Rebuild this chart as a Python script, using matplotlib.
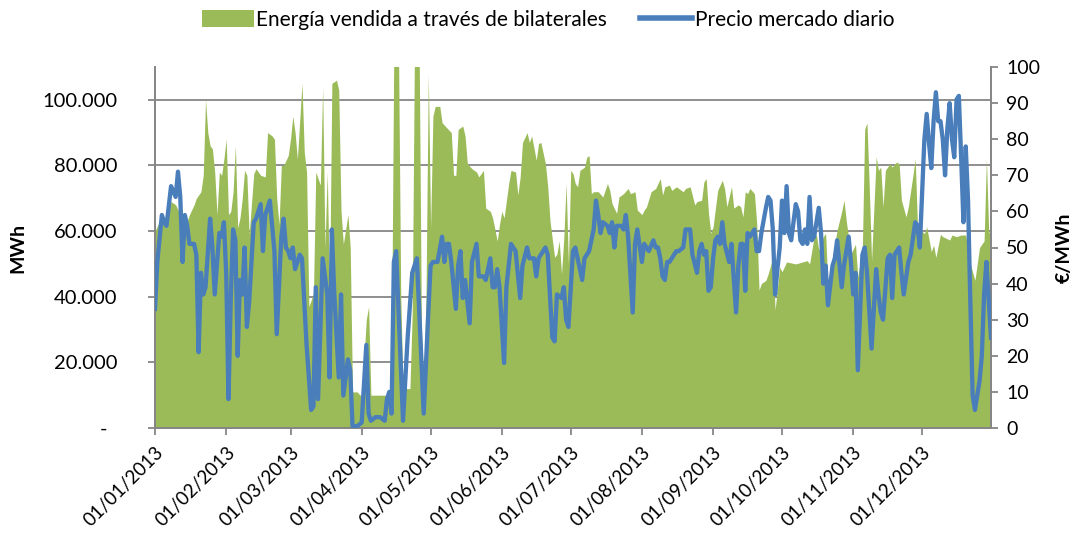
import pandas as pd
import matplotlib
matplotlib.use('Agg')
import matplotlib.pyplot as plt
import matplotlib.dates as mdates
from matplotlib.patches import Patch
from matplotlib.lines import Line2D
from matplotlib.ticker import FuncFormatter, MultipleLocator

plt.rcParams['font.family'] = ['Lato', 'DejaVu Sans']

# ---- DATOS (dia del año desde 01/01/2013) ----

inicio = pd.Timestamp('2013-01-01')

# Energia vendida a traves de bilaterales (miles de MWh)
dias_energia = [
    0, 2, 4, 7, 9, 11, 14, 15, 17, 18, 20, 21, 22, 23, 24, 25, 26, 27, 28, 29, 30, 31, 32, 33, 34,
    35, 36, 37, 38, 39, 40, 41, 43, 44, 46, 48, 49, 51, 52, 53, 54, 55, 56, 58, 59,
    60, 61, 62, 64, 65, 66, 67, 69, 70, 72, 73, 74, 75, 76, 77, 79, 80, 81, 82, 84, 85, 86, 88, 90, 92,
    93, 94, 102, 103, 104, 106, 107, 108, 111, 112, 113, 115, 116, 117, 118, 119, 120,
    121, 122, 124, 125, 129, 130, 131, 132, 134, 135, 136, 138, 140, 141, 143, 144, 146, 147, 149, 150,
    151, 152, 154, 155, 157, 158, 159, 160, 162, 163, 164, 166, 167, 168, 170, 171, 172, 174, 175, 176,
    177, 178, 179, 180, 181,
    182, 183, 184, 185, 187, 188, 189, 190, 191, 193, 195, 197, 198, 199, 201, 202, 204, 206, 207, 209,
    210, 212, 213, 214, 216, 218, 220, 221, 222, 224, 225, 227, 228, 230, 231, 233, 235, 236, 238, 239,
    240, 241, 242, 243,
    245, 247, 248, 249, 251, 252, 254, 255, 256, 257, 258, 259, 261, 262, 263, 264, 266, 267, 269, 270,
    272, 273, 275, 279, 284, 285, 287, 288, 289, 291, 292, 293, 295, 297, 299, 300,
    301, 303, 305, 306, 308, 309, 310, 311, 312, 314, 315, 316, 317, 318, 320, 321, 322, 323, 324, 325,
    327, 328, 330, 331, 332, 335, 336, 338, 339, 340, 342, 343, 346, 347, 349, 351, 353, 355, 357, 359,
    361, 362, 363, 364,
]
energia_miles = [
    60, 63, 62, 69, 68, 65, 63, 65, 68, 70, 72, 77, 100, 90, 86, 85, 78, 65, 78, 77, 82, 88, 65, 66, 72,
    86, 61, 64, 70, 78.5, 77, 59, 77.5, 79, 77, 76.5, 90, 89, 88, 70, 62, 80, 80, 83, 88,
    95, 90, 82, 105, 84, 78, 37, 41, 78, 74, 104, 55, 78, 41, 105, 106, 103, 66, 56, 65, 55, 11, 11, 9.5, 33,
    37, 10, 10, 25, 118, 118, 40, 12, 12, 35, 118, 118, 30, 12, 40, 108, 61,
    95, 98, 98, 93, 90, 77, 77, 91, 92, 89, 80.5, 79, 78, 76.5, 78.5, 67, 66, 64, 57, 62,
    66, 64, 74.5, 78.5, 78, 71, 76.5, 87, 90, 87, 89, 81.6, 86.7, 87, 80.5, 73.5, 63, 52, 53, 57,
    47, 58, 74.5, 50, 78.5,
    77.5, 74.5, 73.5, 78.5, 79.5, 82.5, 83, 71.4, 72, 72, 70.4, 74.5, 72.4, 68.4, 65.4, 70.4, 71.4, 73, 71.4, 72,
    66.4, 65, 66.4, 67.4, 72, 73, 76, 71, 73.5, 74, 72.4, 73.5, 73, 72, 73, 73.5, 68, 69, 69.4, 75,
    76, 65.4, 59.3, 61.3,
    72.4, 75.5, 73, 67.4, 73.5, 67, 68, 67.4, 64.3, 72, 71.4, 73, 71.4, 62.3, 42, 44, 45, 47, 52, 36,
    49, 47.6, 50.6, 50, 51, 50, 58.3, 58.8, 54.2, 58.3, 59.3, 43, 52, 60.3, 66, 69.4,
    63, 53, 56, 46, 55, 91, 93, 73.5, 51, 82.6, 78.5, 79.5, 67.4, 78.5, 80.5, 79.5, 80.5, 81, 80.5, 69.4,
    64.3, 67.4, 77, 82, 61.3, 59.2, 61.3, 53.7, 55.7, 52, 59, 58.3, 57.3, 58.8, 58.3, 58.8, 58.8, 50, 45, 55,
    57, 82, 60, 58,
]

# Precio mercado diario (EUR/MWh)
dias_precio = [
    0, 1, 3, 4, 5, 7, 9, 10, 11, 12, 13, 14, 15, 17, 18, 19, 20, 21, 22, 24, 25, 26, 28, 29, 30,
    31, 32, 33, 34, 35, 36, 37, 38, 39, 40, 41, 42, 43, 44, 46, 47, 48, 50, 52, 53, 55, 56, 57, 58, 59,
    60, 61, 63, 64, 66, 68, 69, 70, 71, 73, 75, 76, 77, 78, 80, 81, 82, 84, 85, 86, 88, 90, 92, 93, 94,
    96, 98, 100, 101, 102, 103, 104, 105, 106, 108, 110, 112, 114, 115, 117, 119, 120,
    121, 123, 125, 126, 127, 128, 129, 131, 132, 133, 134, 135, 137, 138, 140, 141, 143, 144, 146, 147,
    148, 149, 150, 152, 153, 155, 157, 159, 160, 162, 163, 165, 166, 167, 169, 170, 171, 173, 174, 175,
    177, 178, 179, 180,
    182, 183, 184, 186, 187, 189, 191, 192, 193, 194, 195, 197, 198, 199, 200, 201, 203, 204, 205, 206,
    208, 209, 210, 212, 213, 215, 217, 218, 219, 220, 221, 222, 223, 224, 225, 227, 228, 230, 231, 233,
    234, 236, 237, 238, 239, 240, 241, 242, 243,
    244, 245, 246, 247, 248, 250, 251, 253, 254, 255, 256, 257, 258, 259, 261, 262, 263, 264, 266, 267,
    268, 269, 270, 271, 272, 273, 274, 275, 276, 277, 279, 280, 281, 282, 283, 284, 285, 286, 287, 289,
    290, 291, 292, 293, 295, 296, 297, 299, 300, 302,
    303, 304, 305, 306, 308, 309, 310, 312, 314, 315, 316, 317, 319, 320, 321, 322, 324, 325, 326, 328,
    329, 331, 332, 333, 335, 336, 337, 338, 339, 340, 341, 342, 343, 344, 345, 346, 347, 348, 349, 350,
    351, 352, 353, 354, 355, 356, 357, 359, 360, 361, 362, 364,
]
precio = [
    33, 46, 59, 57, 56, 67, 64, 71, 64, 46, 59, 56, 51, 51, 48, 21, 43, 37, 39, 58, 50, 37, 54, 53, 57,
    43, 8, 36, 55, 52, 20, 41, 37, 50, 28, 35, 46, 57, 58, 62, 49, 59, 63, 49, 26, 53, 58, 50, 49, 47,
    50, 44, 48, 47, 23, 5, 6, 39, 8, 47, 37, 14, 55, 38, 14, 37, 9, 19, 16, 0.5, 0.5, 1.5, 23, 4, 2,
    3, 3, 2, 8, 10, 4, 46, 49, 33, 2, 25, 43, 47, 33, 4, 32, 45,
    46, 46, 53, 46, 51, 51, 46, 33, 45, 49, 36, 41, 29, 46, 51, 42, 42, 41, 47, 39,
    39, 44, 39, 18, 39, 51, 49, 36, 45, 50, 47, 47, 42, 47, 49, 50, 48, 25, 24, 37,
    36, 39, 30, 28,
    49, 50, 47, 41, 47, 49, 55, 63, 59, 54, 57, 56, 54, 57, 50, 56, 56, 55, 59, 53,
    32, 51, 55, 46, 51, 49, 52, 50, 50, 47, 42, 41, 46, 46, 47, 49, 49, 50, 55, 55,
    48, 43, 49, 51, 48, 49, 38, 39, 47,
    52, 53, 51, 57, 51, 46, 51, 32, 45, 51, 51, 38, 54, 53, 55, 49, 49, 54, 61, 64,
    63, 55, 37, 44, 50, 63, 54, 67, 54, 52, 62, 60, 52, 51, 55, 51, 64, 52, 53, 61,
    54, 40, 45, 34, 45, 47, 52, 39, 45, 53,
    46, 37, 43, 16, 48, 50, 43, 22, 44, 37, 32, 30, 47, 48, 36, 48, 50, 43, 37, 46,
    48, 57, 56, 50, 80, 87, 79, 72, 85, 93, 85, 85, 80, 70, 83, 90, 80, 75, 91, 92,
    75, 57, 78, 63, 35, 9, 5, 13, 20, 37, 46, 25,
]

# ---- ESTILO ----

VERDE = '#9BBB59'
AZUL = '#4A7EBB'
GRIS = '#868686'

fechas_energia = inicio + pd.to_timedelta(dias_energia, unit='D')
energia_mwh = [v * 1000 for v in energia_miles]
fechas_precio = inicio + pd.to_timedelta(dias_precio, unit='D')

fig = plt.figure(figsize=(10.79, 5.34), dpi=100)
ax = fig.add_axes([155 / 1079, 1 - 428 / 534, 836 / 1079, 361 / 534])

ax.fill_between(fechas_energia, energia_mwh, color=VERDE, lw=0, zorder=2)
ax.set_ylim(0, 110000)
ax.set_xlim(inicio, pd.Timestamp('2013-12-31'))
ax.yaxis.set_major_locator(MultipleLocator(20000))
ax.yaxis.set_major_formatter(FuncFormatter(
    lambda v, p: '-  ' if v == 0 else f'{int(v):,}'.replace(',', '.')))
ax.grid(axis='y', color=GRIS, lw=1.3)
ax.set_axisbelow(True)

ax.xaxis.set_major_locator(mdates.MonthLocator(bymonthday=1))
ax.xaxis.set_major_formatter(mdates.DateFormatter('%d/%m/%Y'))
for lbl in ax.get_xticklabels():
    lbl.set_rotation(45)
    lbl.set_ha('right')
    lbl.set_va('top')
    lbl.set_rotation_mode('anchor')

ax2 = ax.twinx()
ax2.plot(fechas_precio, precio, color=AZUL, lw=3.1, solid_joinstyle='round', zorder=3)
ax2.set_ylim(0, 100)
ax2.yaxis.set_major_locator(MultipleLocator(10))

for a in (ax, ax2):
    a.spines['top'].set_visible(False)
    for lado in ('left', 'right', 'bottom'):
        a.spines[lado].set_color(GRIS)
        a.spines[lado].set_linewidth(1.3)
    a.tick_params(colors=GRIS, labelcolor='black', length=5, width=1.3, labelsize=14)
ax.tick_params(axis='x', labelsize=13.5, pad=6)
ax.tick_params(axis='y', labelsize=14.5, pad=22)
ax2.tick_params(axis='y', pad=6)

fig.text(18 / 1079, 1 - 248 / 534, 'MWh', rotation=90, ha='center', va='center',
         fontsize=14, fontweight='bold')
fig.text(1064 / 1079, 1 - 248 / 534, '€/MWh', rotation=90, ha='center', va='center',
         fontsize=14, fontweight='bold')

handles = [Patch(facecolor=VERDE, edgecolor='none'),
           Line2D([0], [0], color=AZUL, lw=4)]
fig.legend(handles, ['Energía vendida a través de bilaterales', 'Precio mercado diario'],
           loc='center', bbox_to_anchor=(548 / 1079, 1 - 20 / 534), ncol=2, frameon=False,
           fontsize=15, handlelength=2.5, handleheight=0.9, handletextpad=0.1,
           columnspacing=1.6)

fig.savefig('out.png', dpi=100)
